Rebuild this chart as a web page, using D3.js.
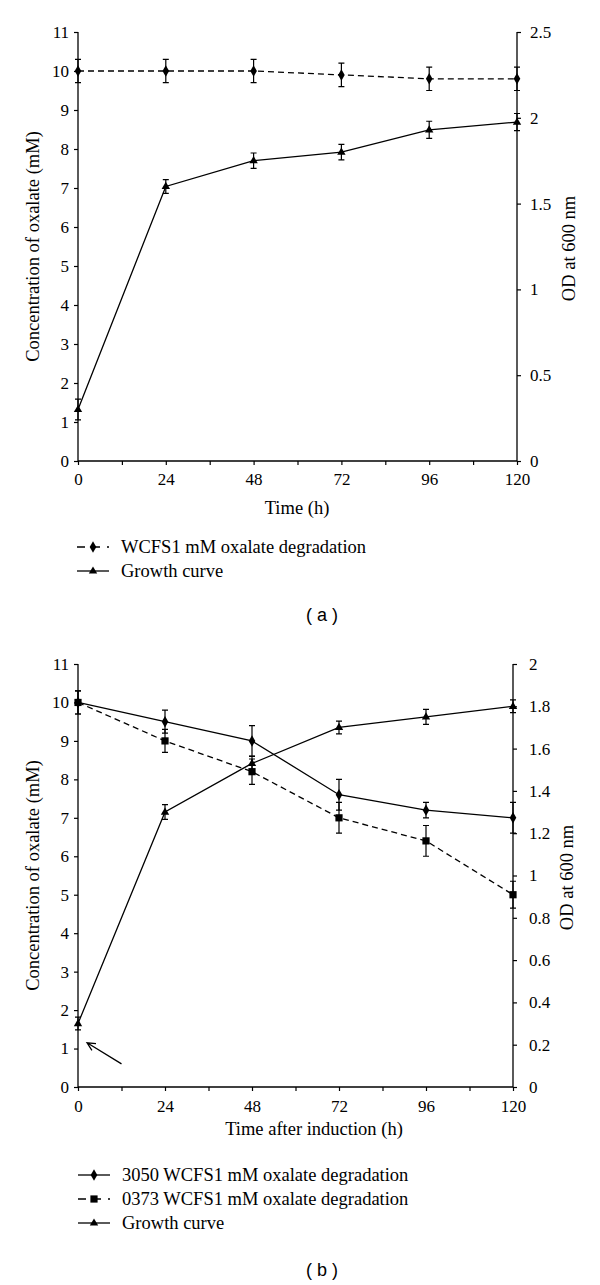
<!DOCTYPE html>
<html><head><meta charset="utf-8">
<script src="https://cdn.jsdelivr.net/npm/d3@7/dist/d3.min.js"></script>
<style>
body{margin:0;background:#fff;}
svg{display:block;}
text{font-family:"Liberation Serif","Times New Roman",serif;fill:#000;}
</style></head>
<body><svg id="c" width="600" height="1285"></svg>
<script>
// ---------- data ----------
const times = [0, 24, 48, 72, 96, 120];
const xTickLabels = [0, 24, 48, 72, 96, 120];

// panel (a)
const oxalateA = [10, 10, 10, 9.9, 9.8, 9.8];
const oxalateAErr = [0.3, 0.3, 0.3, 0.3, 0.3, 0.3];
const growthA = [0.3, 1.6, 1.75, 1.8, 1.93, 1.975];
const growthAErr = [0.06, 0.04, 0.045, 0.045, 0.05, 0.05];
const leftTicksA = [0,1,2,3,4,5,6,7,8,9,10,11];
const rightTicksA = [0, 0.5, 1, 1.5, 2, 2.5];

// panel (b)
const ox3050 = [10, 9.5, 9.0, 7.6, 7.2, 7.0];
const ox3050Err = [0.3, 0.3, 0.4, 0.4, 0.2, 0.4];
const ox0373 = [10, 9.0, 8.2, 7.0, 6.4, 5.0];
const ox0373Err = [0.3, 0.3, 0.33, 0.4, 0.4, 0.35];
const growthB = [0.3, 1.3, 1.53, 1.70, 1.75, 1.80];
const growthBErr = [0.03, 0.035, 0.035, 0.03, 0.035, 0.03];
const leftTicksB = [0,1,2,3,4,5,6,7,8,9,10,11];
const rightTicksB = [0,0.2,0.4,0.6,0.8,1,1.2,1.4,1.6,1.8,2];

const svg = d3.select("#c");

function marker(g, type, x, y) {
  if (type === "diamond") {
    g.append("path").attr("d", d3.symbol(d3.symbolDiamond, 38)()).attr("transform", `translate(${x},${y})`).attr("fill","#000");
  } else if (type === "square") {
    g.append("rect").attr("x", x-3.6).attr("y", y-3.6).attr("width",7.2).attr("height",7.2).attr("fill","#000");
  } else {
    g.append("path").attr("d", `M${x},${y-4.6}L${x+4.2},${y+2.6}L${x-4.2},${y+2.6}Z`).attr("fill","#000");
  }
}

function panel(cfg) {
  const g = svg.append("g");
  const x = d3.scaleLinear().domain([0,120]).range([cfg.left, cfg.right]);
  const yL = d3.scaleLinear().domain([0,11]).range([cfg.bottom, cfg.top]);
  const yR = d3.scaleLinear().domain([0,cfg.rMax]).range([cfg.bottom, cfg.top]);

  // axes
  const ax = g.append("g").attr("transform",`translate(0,${cfg.bottom})`)
    .call(d3.axisBottom(x).tickValues(d3.range(0,121,12)).tickSize(4).tickPadding(cfg.xPad)
      .tickFormat(d => xTickLabels.includes(d) ? d : ""));
  const al = g.append("g").attr("transform",`translate(${cfg.left},0)`)
    .call(d3.axisLeft(yL).tickValues(cfg.leftTicks).tickSize(4).tickPadding(5).tickFormat(d3.format("d")));
  const ar = g.append("g").attr("transform",`translate(${cfg.right},0)`)
    .call(d3.axisRight(yR).tickValues(cfg.rightTicks).tickSize(4).tickPadding(cfg.rPad).tickFormat(d => d3.format("")(d)));
  [ax, al, ar].forEach(a => {
    a.select(".domain").attr("stroke","#000").attr("stroke-width",1.3);
    a.selectAll(".tick line").attr("stroke","#000").attr("stroke-width",1.2);
    a.selectAll("text").style("font-family",'"Liberation Serif",serif').style("font-size","17px").attr("fill","#000");
  });
  // make domain lines plain (no outer ticks)
  ax.select(".domain").attr("d", `M${cfg.left},0H${cfg.right}`);
  al.select(".domain").attr("d", `M0,${cfg.bottom}V${cfg.top}`);
  ar.select(".domain").attr("d", `M0,${cfg.bottom}V${cfg.top}`);

  // series
  cfg.series.forEach(s => {
    const ys = s.axis === "L" ? yL : yR;
    const line = d3.line().x((d,i)=>x(times[i])).y(d=>ys(d));
    g.append("path").datum(s.values).attr("d", line).attr("fill","none")
      .attr("stroke","#000").attr("stroke-width",1.3)
      .attr("stroke-dasharray", s.dashed ? "6,4" : null);
    s.values.forEach((v,i) => {
      const e = s.err[i], xx = x(times[i]);
      const y1 = ys(v+e), y2 = ys(v-e);
      g.append("path").attr("d", `M${xx},${y1}V${y2}M${xx-3},${y1}H${xx+3}M${xx-3},${y2}H${xx+3}`)
        .attr("stroke","#000").attr("stroke-width",1.2).attr("fill","none");
      marker(g, s.marker, xx, ys(v));
    });
  });

  // axis titles
  g.append("text").attr("transform",`translate(${cfg.lTitleX},${(cfg.top+cfg.bottom)/2}) rotate(-90)`)
    .attr("text-anchor","middle").attr("dominant-baseline","central").style("font-size","18.5px").text("Concentration of oxalate (mM)");
  g.append("text").attr("transform",`translate(${cfg.rTitleX},${(cfg.top+cfg.bottom)/2 + 2}) rotate(-90)`)
    .attr("text-anchor","middle").attr("dominant-baseline","central").style("font-size","18.5px").text("OD at 600 nm");
  g.append("text").attr("x", cfg.xTitleX).attr("y", cfg.xTitleY).attr("text-anchor","middle")
    .style("font-size","18.5px").text(cfg.xTitle);

  // legend
  cfg.series.forEach((s,i) => {
    const ly = cfg.legendY + i*cfg.legendGap;
    g.append("path").attr("d", `M${cfg.legendX},${ly}H${cfg.legendX+32}`)
      .attr("stroke","#000").attr("stroke-width",1.3).attr("stroke-dasharray", s.dashed ? "8,7" : null);
    marker(g, s.marker, cfg.legendX+16, ly);
    g.append("text").attr("x", cfg.legendX+44).attr("y", ly+6).style("font-size","18.5px").text(s.name);
  });

  g.append("text").attr("x",322).attr("y",cfg.labelY).attr("text-anchor","middle")
    .style("font-family",'"Liberation Sans",Arial,sans-serif').style("font-size","18px").text(cfg.label);
  return {x, yL, yR, g};
}

panel({
  left:78, right:517, top:32, bottom:461, rMax:2.5,
  leftTicks:leftTicksA, rightTicks:rightTicksA, xPad:8, rPad:9,
  lTitleX:33, rTitleX:569, xTitleX:297, xTitleY:514, xTitle:"Time (h)",
  legendX:77, legendY:547, legendGap:24,
  label:"( a )", labelY:621,
  series:[
    {name:"WCFS1 mM oxalate degradation", values:oxalateA, err:oxalateAErr, axis:"L", dashed:true, marker:"diamond"},
    {name:"Growth curve", values:growthA, err:growthAErr, axis:"R", dashed:false, marker:"triangle"}
  ]
});

const pb = panel({
  left:78, right:513, top:664, bottom:1087, rMax:2,
  leftTicks:leftTicksB, rightTicks:rightTicksB, xPad:9, rPad:12,
  lTitleX:33, rTitleX:567, xTitleX:314, xTitleY:1135, xTitle:"Time after induction (h)",
  legendX:78, legendY:1175, legendGap:24,
  label:"( b )", labelY:1276,
  series:[
    {name:"3050 WCFS1 mM oxalate degradation", values:ox3050, err:ox3050Err, axis:"L", dashed:false, marker:"diamond"},
    {name:"0373 WCFS1 mM oxalate degradation", values:ox0373, err:ox0373Err, axis:"L", dashed:true, marker:"square"},
    {name:"Growth curve", values:growthB, err:growthBErr, axis:"R", dashed:false, marker:"triangle"}
  ]
});

// arrow annotation in panel (b), pointing at the induction time
const arrowFrom = [12, 0.6];   // (time h, oxalate mM)
const arrowTo = [2.5, 1.15];
{
  const x1 = pb.x(arrowFrom[0]), y1 = pb.yL(arrowFrom[1]);
  const x2 = pb.x(arrowTo[0]), y2 = pb.yL(arrowTo[1]);
  const ang = Math.atan2(y2-y1, x2-x1), L = 9, a = 0.45;
  pb.g.append("path").attr("d",
    `M${x1},${y1}L${x2},${y2}M${x2-L*Math.cos(ang-a)},${y2-L*Math.sin(ang-a)}L${x2},${y2}L${x2-L*Math.cos(ang+a)},${y2-L*Math.sin(ang+a)}`)
    .attr("stroke","#000").attr("stroke-width",1.3).attr("fill","none");
}
</script></body></html>
